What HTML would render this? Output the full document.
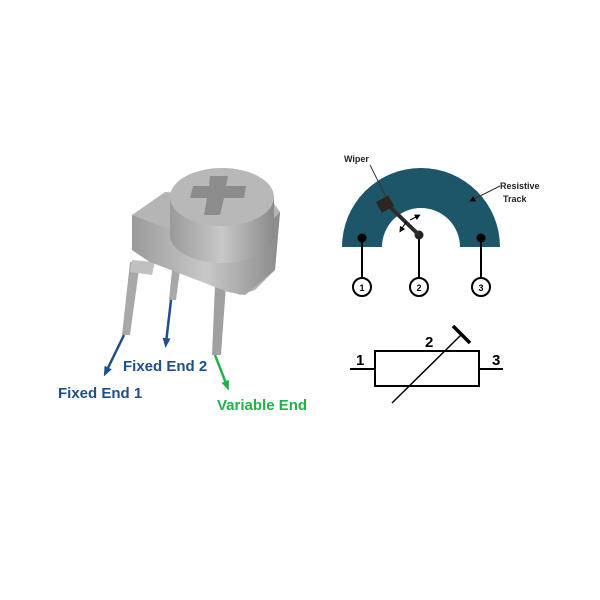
<!DOCTYPE html>
<html><head><style>body{margin:0;background:#fff}svg{display:block}</style></head><body>
<svg width="600" height="600" viewBox="0 0 600 600" xmlns="http://www.w3.org/2000/svg" font-family="Liberation Sans, sans-serif">
<defs>
<linearGradient id="g1" x1="0" x2="1"><stop offset="0" stop-color="#9a9a9a"/><stop offset="0.5" stop-color="#c8c8c8"/><stop offset="1" stop-color="#8a8a8a"/></linearGradient>
<marker id="ab" markerUnits="userSpaceOnUse" markerWidth="10" markerHeight="10" refX="5" refY="5" orient="auto"><path d="M0,1 L10,5 L0,9z" fill="#1f4e8c"/></marker>
<marker id="ag" markerUnits="userSpaceOnUse" markerWidth="10" markerHeight="10" refX="5" refY="5" orient="auto"><path d="M0,1 L10,5 L0,9z" fill="#21b24b"/></marker>
<marker id="ak" markerUnits="userSpaceOnUse" markerWidth="6" markerHeight="6" refX="3" refY="3" orient="auto"><path d="M0,0 L6,3 L0,6z" fill="#000"/></marker>
</defs>
<!-- pins -->
<path d="M130,262 L140,262 L130,335 L122,335z" fill="#a8a8a8"/>
<path d="M172,270 L180,270 L176,300 L169,300z" fill="#a8a8a8"/>
<path d="M215,285 L226,285 L221,355 L212,355z" fill="#a0a0a0"/>
<path d="M132,260 L155,262 L152,275 L130,272z" fill="#c0c0c0"/>
<!-- body -->
<path d="M132,215 L165,192 L270,198 L280,212 L275,270 L255,290 L240,295 L228,290 L150,262 L132,250z" fill="#b5b5b5"/>
<path d="M132,215 L228,252 L240,255 L280,212 L275,270 L245,295 L228,292 L150,262 L132,250z" fill="url(#g1)"/>
<!-- cylinder -->
<path d="M170,197 L170,235 A52,28 0 0 0 274,235 L274,197z" fill="url(#g1)"/>
<ellipse cx="222" cy="197" rx="52" ry="29" fill="#b8b8b8"/>
<path d="M210,176 L228,176 L226,186 L246,186 L244,198 L224,198 L220,215 L204,215 L207,198 L190,198 L193,186 L209,186z" fill="#8c8c8c"/>
<!-- arrows -->
<line x1="124" y1="335" x2="106" y2="372" stroke="#1f4e8c" stroke-width="2.5" marker-end="url(#ab)"/>
<line x1="171" y1="300" x2="166" y2="343" stroke="#1f4e8c" stroke-width="2.5" marker-end="url(#ab)"/>
<line x1="215" y1="355" x2="227" y2="386" stroke="#21b24b" stroke-width="2.5" marker-end="url(#ag)"/>
<text x="58" y="398" font-size="15" font-weight="bold" fill="#1f4e8c">Fixed End 1</text>
<text x="123" y="371" font-size="15" font-weight="bold" fill="#1f4e8c">Fixed End 2</text>
<text x="217" y="410" font-size="15" font-weight="bold" fill="#21b24b">Variable End</text>
<!-- track -->
<path d="M342,247 A79,79 0 0 1 500,247 L460,247 A39,39 0 0 0 382,247z" fill="#1d5668"/>
<line x1="362" y1="238" x2="362" y2="277" stroke="#000" stroke-width="2"/>
<line x1="419" y1="235" x2="419" y2="277" stroke="#000" stroke-width="2"/>
<line x1="481" y1="238" x2="481" y2="277" stroke="#000" stroke-width="2"/>
<circle cx="362" cy="238" r="4.5" fill="#000"/><circle cx="481" cy="238" r="4.5" fill="#000"/><circle cx="419" cy="235" r="4.5" fill="#222"/>
<line x1="388" y1="205" x2="419" y2="235" stroke="#2a2a2a" stroke-width="4"/>
<rect x="378" y="198" width="14" height="12" fill="#2b2620" transform="rotate(-30 385 204)"/>
<line x1="410" y1="220" x2="418" y2="216" stroke="#000" stroke-width="1" marker-end="url(#ak)"/>
<line x1="406" y1="222" x2="401" y2="230" stroke="#000" stroke-width="1" marker-end="url(#ak)"/>
<circle cx="362" cy="287" r="9" fill="#fff" stroke="#000" stroke-width="2"/>
<circle cx="419" cy="287" r="9" fill="#fff" stroke="#000" stroke-width="2"/>
<circle cx="481" cy="287" r="9" fill="#fff" stroke="#000" stroke-width="2"/>
<text x="362" y="291" font-size="9" font-weight="bold" text-anchor="middle">1</text>
<text x="419" y="291" font-size="9" font-weight="bold" text-anchor="middle">2</text>
<text x="481" y="291" font-size="9" font-weight="bold" text-anchor="middle">3</text>
<text x="344" y="162" font-size="9" font-weight="bold" fill="#222">Wiper</text>
<line x1="370" y1="165" x2="387" y2="199" stroke="#333" stroke-width="1"/>
<text x="500" y="189" font-size="9" font-weight="bold" fill="#222">Resistive</text>
<text x="503" y="202" font-size="9" font-weight="bold" fill="#222">Track</text>
<line x1="500" y1="186" x2="472" y2="200" stroke="#333" stroke-width="1" marker-end="url(#ak)"/>
<!-- symbol -->
<rect x="375" y="351" width="104" height="35" fill="#fff" stroke="#000" stroke-width="2"/>
<line x1="350" y1="369" x2="375" y2="369" stroke="#000" stroke-width="2"/>
<line x1="479" y1="369" x2="503" y2="369" stroke="#000" stroke-width="2"/>
<line x1="392" y1="403" x2="461" y2="335" stroke="#000" stroke-width="1.5"/>
<line x1="453" y1="326" x2="470" y2="343" stroke="#000" stroke-width="3.5"/>
<text x="356" y="365" font-size="15" font-weight="bold">1</text>
<text x="425" y="347" font-size="15" font-weight="bold">2</text>
<text x="492" y="365" font-size="15" font-weight="bold">3</text>
</svg>
</body></html>
